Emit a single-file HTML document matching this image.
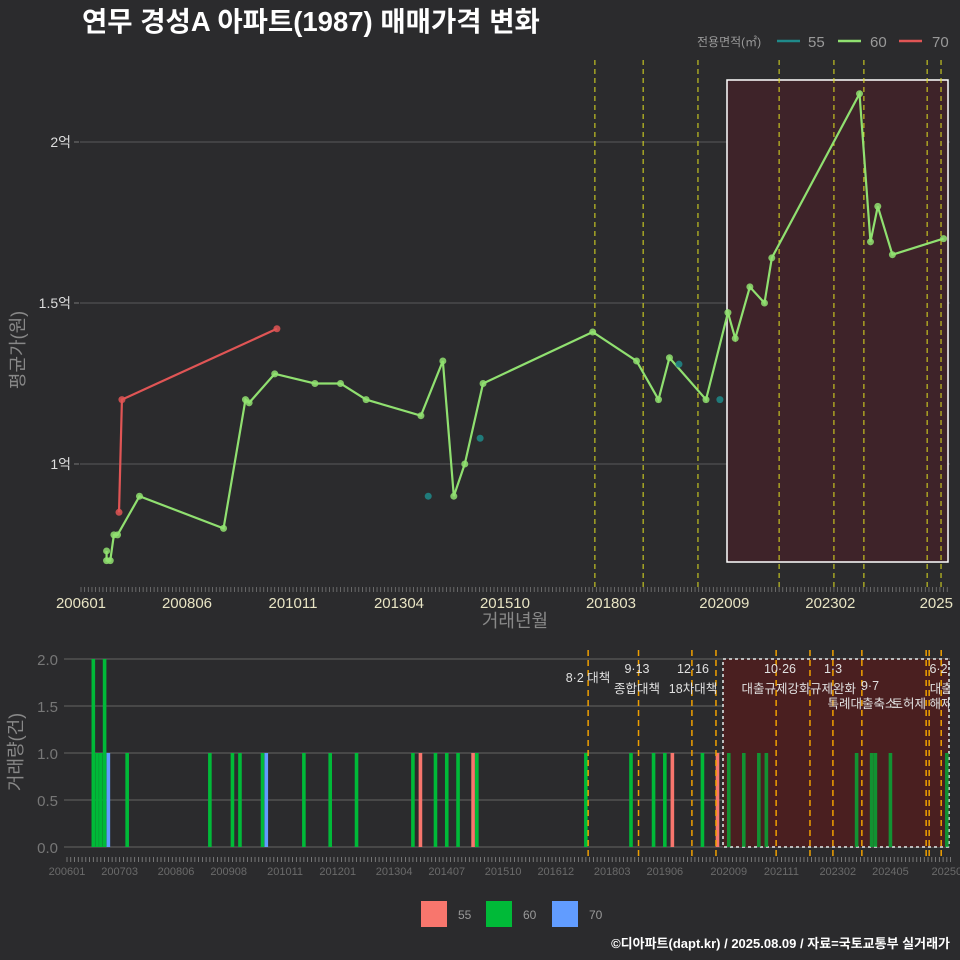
<!DOCTYPE html>
<html><head><meta charset="utf-8">
<style>
html,body{margin:0;padding:0;background:#2b2b2d;}
svg{display:block;font-family:"Liberation Sans","Noto Sans CJK KR",sans-serif;}
</style></head>
<body>
<svg id="chart" width="960" height="960" viewBox="0 0 960 960" xmlns="http://www.w3.org/2000/svg">
<rect width="960" height="960" fill="#2b2b2d"/>
<text x="82" y="31" fill="#fff" font-size="27.5" font-weight="bold">연무 경성A 아파트(1987) 매매가격 변화</text>
<g>
<text x="697" y="46" fill="#999" font-size="12">전용면적(㎡)</text>
<line x1="777" y1="41" x2="800" y2="41" stroke="#1f8a8a" stroke-width="2.5"/>
<text x="808" y="47" fill="#999" font-size="15">55</text>
<line x1="838" y1="41" x2="861" y2="41" stroke="#90e070" stroke-width="2.5"/>
<text x="870" y="47" fill="#999" font-size="15">60</text>
<line x1="899" y1="41" x2="922" y2="41" stroke="#e05555" stroke-width="2.5"/>
<text x="932" y="47" fill="#999" font-size="15">70</text>
</g>
<defs><clipPath id="cp"><rect x="0" y="0" width="950" height="960"/></clipPath></defs>
<g id="topPanel"></g>
<g id="botPanel"></g>
<g>
<rect x="421" y="901" width="26" height="26" fill="#f8766d"/>
<text x="458" y="919" fill="#999" font-size="12">55</text>
<rect x="486" y="901" width="26" height="26" fill="#00ba38"/>
<text x="523" y="919" fill="#999" font-size="12">60</text>
<rect x="552" y="901" width="26" height="26" fill="#619cff"/>
<text x="589" y="919" fill="#999" font-size="12">70</text>
</g>
<text x="950" y="948" text-anchor="end" fill="#fff" font-size="13" font-weight="bold">©디아파트(dapt.kr) / 2025.08.09 / 자료=국토교통부 실거래가</text>
</svg>
<script>
// months counted from 200601 = 0
const m60 = [7,7,8,9,10,16,39,45,46,53,64,71,78,93,99,102,105,110,140,152,158,161,171,177,179,183,187,189,213,216,218,222,236];
const v60 = [0.73,0.70,0.70,0.78,0.78,0.90,0.80,1.20,1.19,1.28,1.25,1.25,1.20,1.15,1.32,0.90,1.00,1.25,1.41,1.32,1.20,1.33,1.20,1.47,1.39,1.55,1.50,1.64,2.15,1.69,1.80,1.65,1.70];
const m70 = [10.4,11.2,53.6];
const v70 = [0.85,1.20,1.42];
const m55 = [95,109.2,163.6,174.8];
const v55 = [0.90,1.08,1.31,1.20];
const topPolicy = [140.6,153.8,168.8,191,206,214.2,231.5,235.3];
const yTicks = [1,1.5,2];
const yTickLabels = ["1억","1.5억","2억"];
const xTickMonths = [0,29,58,87,116,145,176,205,234];
const xTickLabels = ["200601","200806","201011","201304","201510","201803","202009","202302","2025"];
// volume
const barMonths = [7,8,9,10,11,16,38,44,46,52,53,63,70,77,92,94,98,101,104,108,109,138,150,156,159,161,169,173,176,180,184,186,210,214,215,219,234];
const barCounts = [2,1,1,2,1,1,1,1,1,1,1,1,1,1,1,1,1,1,1,1,1,1,1,1,1,1,1,1,1,1,1,1,1,1,1,1,1];
const barArea = ["60","60","60","60","70","60","60","60","60","60","70","60","60","60","60","55","60","60","60","55","60","60","60","60","60","55","60","55","60","60","60","60","60","60","60","60","60"];
const botPolicy = [138.6,152,166.2,172.6,188.6,197.6,203.7,211.4,228.5,229.3,232.5];
const botYTicks = [0,0.5,1,1.5,2];
const botYLabels = ["0.0","0.5","1.0","1.5","2.0"];
const botXTickMonths = [0,14,29,43,58,72,87,101,116,130,145,159,176,190,205,219,234];
const botXTickLabels = ["200601","200703","200806","200908","201011","201201","201304","201407","201510","201612","201803","201906","202009","202111","202302","202405","20250"];
const notes = [
 [588,682,"8·2 대책"],[637,673,"9·13"],[637,693,"종합대책"],[693,673,"12·16"],[693,693,"18차대책"],
 [780,673,"10·26"],[776,693,"대출규제강화"],[833,673,"1·3"],[833,693,"규제완화"],[870,690,"9·7"],
 [862,708,"특례대출축소"],[922,708,"토허제 해제"],[942,673,"6·27"],[947,693,"대출규"]];

const NS="http://www.w3.org/2000/svg";
function mk(p,t,a){const e=document.createElementNS(NS,t);for(const k in a)e.setAttribute(k,a[k]);p.appendChild(e);return e;}
const xT=m=>81+m*3.655, yT=v=>464-(v-1)*322;
const xB=m=>67+m*3.76, yB=v=>847-v*94;
const gTop=document.getElementById('topPanel'), gBot=document.getElementById('botPanel');

yTicks.forEach((t,i)=>{
 let l=mk(gTop,'line',{x1:80,x2:950,y1:yT(t),y2:yT(t),stroke:'#5a5a5a','stroke-width':1});
 
 
 let k=mk(gTop,'line',{x1:74,x2:79,y1:yT(t),y2:yT(t),stroke:'#777'});
 
 
 let tx=mk(gTop,'text',{x:71,y:yT(t)+5,'text-anchor':'end',fill:'#ddd','font-size':14});
 tx.textContent=yTickLabels[i];
 
 
});
let hb=mk(gTop,'rect',{x:727,y:80,width:221,height:482,fill:'#3e2329',stroke:'#fff','stroke-width':1.5});


topPolicy.forEach(m=>{
 let l=mk(gTop,'line',{x1:xT(m),x2:xT(m),y1:60,y2:588,stroke:'#e0e020','stroke-width':1,'stroke-dasharray':'5,4'});
 
 
});
for(let m=0;m<=237;m++){
 let t=mk(gTop,'line',{x1:xT(m),x2:xT(m),y1:587,y2:592,stroke:'#777','stroke-width':0.8});
 
 
}
xTickMonths.forEach((m,i)=>{
 let tx=mk(gTop,'text',{x:xT(m),y:608,'text-anchor':'middle',fill:'#e8e4c4','font-size':15});
 tx.textContent=xTickLabels[i];
 
 
});
let xt=mk(gTop,'text',{x:515,y:627,'text-anchor':'middle',fill:'#888','font-size':18});
xt.textContent='거래년월';


let yt=mk(gTop,'text',{x:0,y:0,'text-anchor':'middle',fill:'#888','font-size':18,transform:'translate(24,350) rotate(-90)'});
yt.textContent='평균가(원)';


function series(ms,vs,color,name,line){
 if(line){
  let p=mk(gTop,'polyline',{points:ms.map((m,i)=>xT(m)+','+yT(vs[i])).join(' '),fill:'none',stroke:color,'stroke-width':2.2});
  
  
 }
 ms.forEach((m,i)=>{
  let c=mk(gTop,'circle',{cx:xT(m),cy:yT(vs[i]),r:3.5,fill:color,opacity:0.85});
  
  
 });
}
series(m70,v70,'#e05555','70',true);
series(m60,v60,'#90e070','60',true);
series(m55,v55,'#1f8a8a','55',false);

botYTicks.forEach((t,i)=>{
 let l=mk(gBot,'line',{x1:64,x2:950,y1:yB(t),y2:yB(t),stroke:'#5a5a5a','stroke-width':1.3});
 
 
 let tx=mk(gBot,'text',{x:58,y:yB(t)+6,'text-anchor':'end',fill:'#777','font-size':15});
 tx.textContent=botYLabels[i];
 
 
});
let bb=mk(gBot,'rect',{x:723,y:659,width:226,height:188,fill:'#4a1f20',stroke:'#bbb','stroke-width':2,'stroke-dasharray':'3,3'});


const col={"55":"#f8766d","60":"#00ba38","70":"#619cff"};
barMonths.forEach((m,i)=>{
 let inBox=xB(m)>723;
 let r=mk(gBot,'rect',{x:xB(m)-1.8,y:yB(barCounts[i]),width:3.6,height:barCounts[i]*94,fill:col[barArea[i]],opacity:inBox?0.75:1});
 
 
});
botPolicy.forEach(m=>{
 let l=mk(gBot,'line',{x1:xB(m),x2:xB(m),y1:650,y2:857,stroke:'#f0a000','stroke-width':1.5,'stroke-dasharray':'6,4'});
 
 
});
for(let m=0;m<=235;m++){
 let t=mk(gBot,'line',{x1:xB(m),x2:xB(m),y1:857,y2:862,stroke:'#888','stroke-width':0.8});
 
 
}
botXTickMonths.forEach((m,i)=>{
 let tx=mk(gBot,'text',{x:xB(m),y:875,'text-anchor':'middle',fill:'#6a6a6a','font-size':11});
 tx.textContent=botXTickLabels[i];
 
 
});
let byt=mk(gBot,'text',{x:0,y:0,'text-anchor':'middle',fill:'#888','font-size':18,transform:'translate(22,752) rotate(-90)'});
byt.textContent='거래량(건)';


notes.forEach(n=>{
 let tx=mk(gBot,'text',{x:n[0],y:n[1],'text-anchor':'middle',fill:'#e0e0e0','font-size':12.5,'clip-path':'url(#cp)'});
 tx.textContent=n[2];
 
 
});
</script>
</body></html>
